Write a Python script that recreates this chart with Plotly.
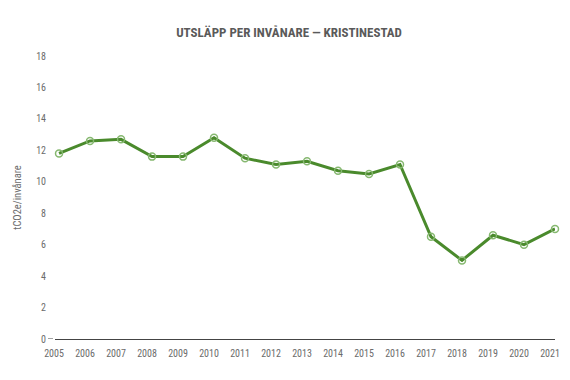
import plotly.graph_objects as go

years = list(range(2005, 2022))
values = [11.8, 12.6, 12.7, 11.6, 11.6, 12.8, 11.5, 11.1, 11.3, 10.7, 10.5, 11.1, 6.5, 5.0, 6.6, 6.0, 7.0]
y_ticks = [0, 2, 4, 6, 8, 10, 12, 14, 16, 18]

FONT = "Roboto Condensed, Liberation Sans, sans-serif"
GRAY = "#6b6b6b"

fig = go.Figure()
fig.add_trace(go.Scatter(
    x=years, y=values, mode="lines+markers",
    line=dict(color="#4a8a2c", width=3),
    marker=dict(symbol="circle-open", size=7, color="#86b870", line=dict(width=1.5, color="#86b870")),
    cliponaxis=False, showlegend=False,
))

# page body has an 8px margin; figure is sized/placed so the plot lands where the reference has it
fig.update_layout(
    width=562, height=364,
    margin=dict(l=47, r=15, t=48, b=33),
    paper_bgcolor="white", plot_bgcolor="white",
    title=dict(text="<b>UTSLÄPP PER INVÅNARE — KRISTINESTAD</b>", x=0.5, xanchor="center", y=0.934, yanchor="middle",
               font=dict(family=FONT, size=13, color="#5a5a5a")),
    font=dict(family=FONT, size=10, color=GRAY),
    xaxis=dict(range=[2004.87, 2021.0], tickvals=years, ticktext=[str(y) for y in years],
               showgrid=False, zeroline=False, showline=True, linecolor="#444444", linewidth=1,
               ticks="", tickfont=dict(family=FONT, size=10, color=GRAY), ticklabelstandoff=5,
               ticklabelshift=-5, ticklabeloverflow="allow", automargin=False),
    yaxis=dict(range=[0, 18], tickvals=y_ticks, showgrid=False, zeroline=False, showline=False,
               ticks="", tickfont=dict(family=FONT, size=10, color=GRAY), ticklabelstandoff=8,
               automargin=False,
               title=dict(text="tCO2e/invånare", font=dict(family=FONT, size=10.5, color=GRAY), standoff=12)),
    shapes=[dict(type="line", xref="paper", yref="y", x0=-0.014, x1=-0.004, y0=0, y1=0,
                 line=dict(color="#444444", width=1))],
)

fig.write_html("out.html")
